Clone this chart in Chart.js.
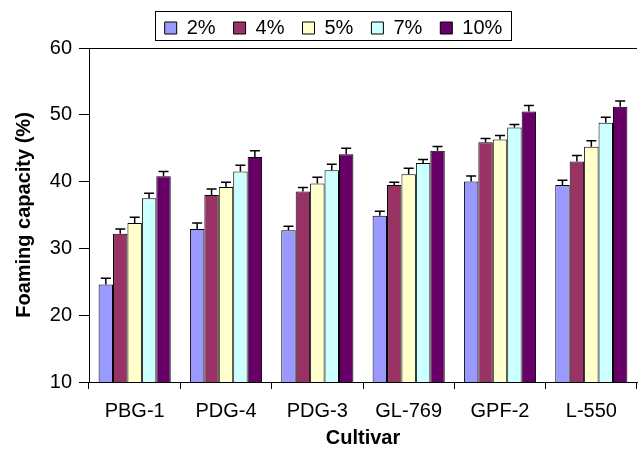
<!DOCTYPE html>
<html>
<head>
<meta charset="utf-8">
<script src="https://cdn.jsdelivr.net/npm/chart.js@4.4.1/dist/chart.umd.min.js"></script>
<style>
  html, body { margin: 0; padding: 0; background: #fff; }
  canvas { display: block; }
</style>
</head>
<body>
<canvas id="chart" width="638" height="451"></canvas>
<script>
// Cultivars on the x axis
const categories = ['PBG-1', 'PDG-4', 'PDG-3', 'GL-769', 'GPF-2', 'L-550'];
const seriesNames = ['2%', '4%', '5%', '7%', '10%'];

// Foaming capacity (%) for each concentration
const fc2 = [24.6, 32.9, 32.7, 34.9, 40.0, 39.5];
const fc4 = [32.2, 38.0, 38.5, 39.5, 45.9, 43.0];
const fc5 = [33.8, 39.2, 39.7, 41.1, 46.3, 45.2];
const fc7 = [37.5, 41.5, 41.7, 42.8, 48.1, 48.8];
const fc10 = [40.8, 43.7, 44.1, 44.6, 50.5, 51.2];

// Error bar sizes (upper half only is visible)
const err2 = [0.95, 0.9, 0.6, 0.65, 0.85, 0.7];
const err4 = [0.7, 0.9, 0.6, 0.4, 0.55, 0.9];
const err5 = [0.85, 0.7, 0.95, 0.9, 0.6, 0.9];
const err7 = [0.75, 0.95, 0.9, 0.5, 0.45, 0.85];
const err10 = [0.7, 0.9, 0.9, 0.65, 0.9, 0.85];

// Y axis ticks
const yTicks = [10, 20, 30, 40, 50, 60];

const colors = ['#9999FF', '#993366', '#FFFFCC', '#CCFFFF', '#660066'];
const values = [fc2, fc4, fc5, fc7, fc10];
const errors = [err2, err4, err5, err7, err10];

const FONT = '"Liberation Sans", Arial, Helvetica, sans-serif';

// Error bars drawn on top of each bar
const errorBars = {
  id: 'errorBars',
  afterDatasetsDraw(chart) {
    const ctx = chart.ctx;
    const y = chart.scales.y;
    ctx.save();
    ctx.strokeStyle = '#000';
    ctx.lineWidth = 1.5;
    chart.data.datasets.forEach((ds, i) => {
      const meta = chart.getDatasetMeta(i);
      meta.data.forEach((bar, j) => {
        const top = y.getPixelForValue(ds.data[j] + errors[i][j]);
        ctx.beginPath();
        ctx.moveTo(bar.x, bar.y);
        ctx.lineTo(bar.x, top);
        ctx.moveTo(bar.x - 5, top);
        ctx.lineTo(bar.x + 5, top);
        ctx.stroke();
      });
    });
    ctx.restore();
  }
};

// Shift the legend a bit right, like the original
const legendShift = {
  id: 'legendShift',
  afterLayout(chart) {
    chart.legend.left += 15;
    chart.legend.right += 15;
  }
};

// Frame around the legend and top border of the plot
const frames = {
  id: 'frames',
  afterDraw(chart) {
    const ctx = chart.ctx;
    const lg = chart.legend;
    const pad = lg.options.labels.padding;
    const lw = lg.lineWidths[0];
    const start = (lg.left + pad + lg.right - lw) / 2;
    const end = start + lw - pad;
    const itemTop = lg.top + pad;
    ctx.save();
    ctx.strokeStyle = '#000';
    ctx.lineWidth = 1;
    ctx.strokeRect(Math.round(start - 10) + 0.5, Math.round(itemTop - 7) + 0.5,
      Math.round(end - start + 18), 29);
    const ca = chart.chartArea;
    ctx.beginPath();
    ctx.moveTo(ca.left, Math.round(ca.top) + 0.5);
    ctx.lineTo(ca.right, Math.round(ca.top) + 0.5);
    ctx.stroke();
    ctx.restore();
  }
};

new Chart(document.getElementById('chart').getContext('2d'), {
  type: 'bar',
  data: {
    labels: categories,
    datasets: seriesNames.map((name, i) => ({
      label: name,
      data: values[i],
      backgroundColor: colors[i],
      borderColor: '#000',
      borderWidth: 1,
      categoryPercentage: 0.79,
      barPercentage: 1.0
    }))
  },
  options: {
    responsive: false,
    animation: false,
    layout: { padding: { top: 0, right: 1, left: 0, bottom: 0 } },
    plugins: {
      tooltip: { enabled: false },
      legend: {
        position: 'top',
        labels: {
          boxWidth: 12,
          boxHeight: 12,
          padding: 18,
          color: '#000',
          font: { family: FONT, size: 20 }
        }
      }
    },
    scales: {
      x: {
        grid: { drawOnChartArea: false, tickLength: 7, color: '#000' },
        border: { color: '#000', width: 1 },
        ticks: { color: '#000', padding: 10, font: { family: FONT, size: 20 } },
        title: {
          display: true,
          text: 'Cultivar',
          color: '#000',
          font: { family: FONT, size: 20, weight: 'bold' },
          padding: { top: 2, bottom: 1 }
        },
        afterFit(scale) { scale.height = 69; }
      },
      y: {
        min: 10,
        max: 60,
        afterBuildTicks(scale) { scale.ticks = yTicks.map(v => ({ value: v })); },
        grid: { drawOnChartArea: false, tickLength: 10, color: '#000' },
        border: { color: '#000', width: 1 },
        ticks: { color: '#000', padding: 7, font: { family: FONT, size: 20 } },
        title: {
          display: true,
          text: 'Foaming capacity (%)',
          color: '#000',
          font: { family: FONT, size: 20, weight: 'bold' },
          padding: { top: 12, bottom: 0 }
        },
        afterFit(scale) { scale.width = 89; }
      }
    }
  },
  plugins: [errorBars, legendShift, frames]
});
</script>
</body>
</html>
